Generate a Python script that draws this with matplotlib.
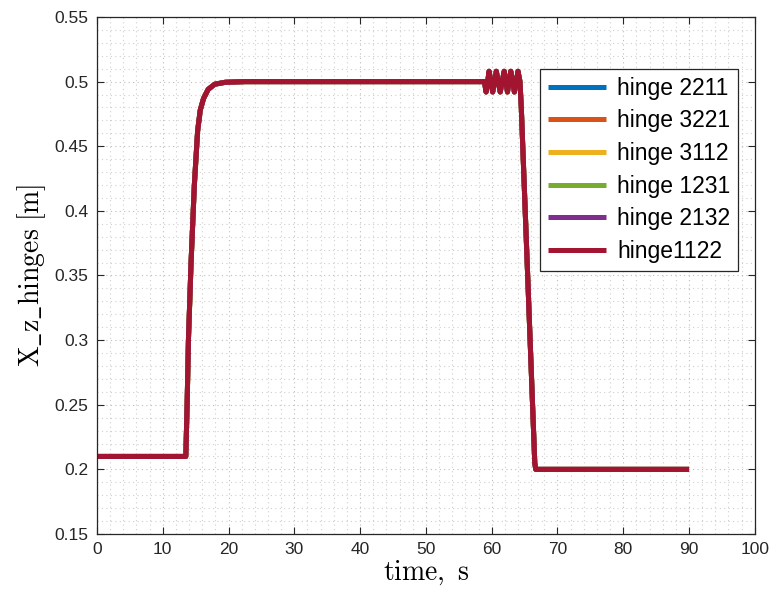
import matplotlib
matplotlib.use("Agg")
import matplotlib.pyplot as plt
from matplotlib.ticker import MultipleLocator

# Dados (todas as articulações seguem a mesma curva)
tempo = [0, 13.5, 13.7, 13.9, 14.3, 14.8, 15.3, 15.7, 16.2, 16.9, 17.9, 19.5, 22.5,
         58.9, 59.15, 59.4, 59.6, 59.9, 60.15, 60.45, 60.7, 61.0, 61.3, 61.6, 61.9,
         62.15, 62.4, 62.65, 62.9, 63.2, 63.45, 63.75, 64.0, 64.3, 64.5, 66.55, 66.7, 90]
x_z = [0.21, 0.21, 0.25, 0.30, 0.36, 0.42, 0.462, 0.478, 0.487, 0.494, 0.498, 0.4995, 0.5,
       0.5, 0.492, 0.5, 0.508, 0.5, 0.492, 0.5, 0.508, 0.5, 0.492, 0.5, 0.508,
       0.5, 0.492, 0.5, 0.508, 0.5, 0.492, 0.5, 0.508, 0.5, 0.48, 0.205, 0.2, 0.2]

nomes = ["hinge 2211", "hinge 3221", "hinge 3112", "hinge 1231", "hinge 2132", "hinge1122"]
cores = ["#0072BD", "#D95319", "#EDB120", "#77AC30", "#7E2F8E", "#A2142F"]

xticks = [0, 10, 20, 30, 40, 50, 60, 70, 80, 90, 100]
yticks = [0.15, 0.2, 0.25, 0.3, 0.35, 0.4, 0.45, 0.5, 0.55]

plt.rcParams["font.family"] = ["Liberation Sans", "DejaVu Sans"]
plt.rcParams["mathtext.fontset"] = "cm"

fig = plt.figure(figsize=(7.71, 6.01), dpi=100)
ax = fig.add_axes([0.1258, 0.1115, 0.8532, 0.8602])

for nome, cor in zip(nomes, cores):
    ax.plot(tempo, x_z, color=cor, linewidth=3.6, label=nome,
            solid_joinstyle="round", solid_capstyle="butt")

ax.set_xlim(0, 100)
ax.set_ylim(0.15, 0.55)
ax.set_xticks(xticks)
ax.set_yticks(yticks)
ax.set_xticklabels([str(v) for v in xticks])
ax.set_yticklabels([("%g" % v) for v in yticks])
ax.xaxis.set_minor_locator(MultipleLocator(2))
ax.yaxis.set_minor_locator(MultipleLocator(0.01))

# grade pontilhada estilo MATLAB (bem clara)
ax.grid(True, which="major", linestyle=(0, (1, 3)), color="#bdbdbd", linewidth=0.8)
ax.grid(True, which="minor", linestyle=(0, (1, 3)), color="#cfcfcf", linewidth=0.8)
ax.set_axisbelow(True)

ax.tick_params(which="major", direction="in", length=5, width=0.8, top=True, right=True,
               labelsize=12.5, colors="#262626", pad=6)
ax.tick_params(which="minor", length=0, top=True, right=True)
for lado in ax.spines.values():
    lado.set_color("#262626")
    lado.set_linewidth(0.9)

ax.set_xlabel(r"$\mathrm{time,\ s}$", fontsize=20, labelpad=1)
ax.set_ylabel(r"$\mathrm{X\_z\_hinges\ [m]}$", fontsize=20, labelpad=5)

leg = ax.legend(loc="upper right", bbox_to_anchor=(0.975, 0.9), fontsize=16.5,
                frameon=True, fancybox=False, framealpha=1, edgecolor="#262626",
                handlelength=2.5, handletextpad=0.5, labelspacing=0.42, borderpad=0.35,
                borderaxespad=0)
leg.get_frame().set_linewidth(0.9)

fig.savefig("out.png", dpi=100)
plt.close(fig)
